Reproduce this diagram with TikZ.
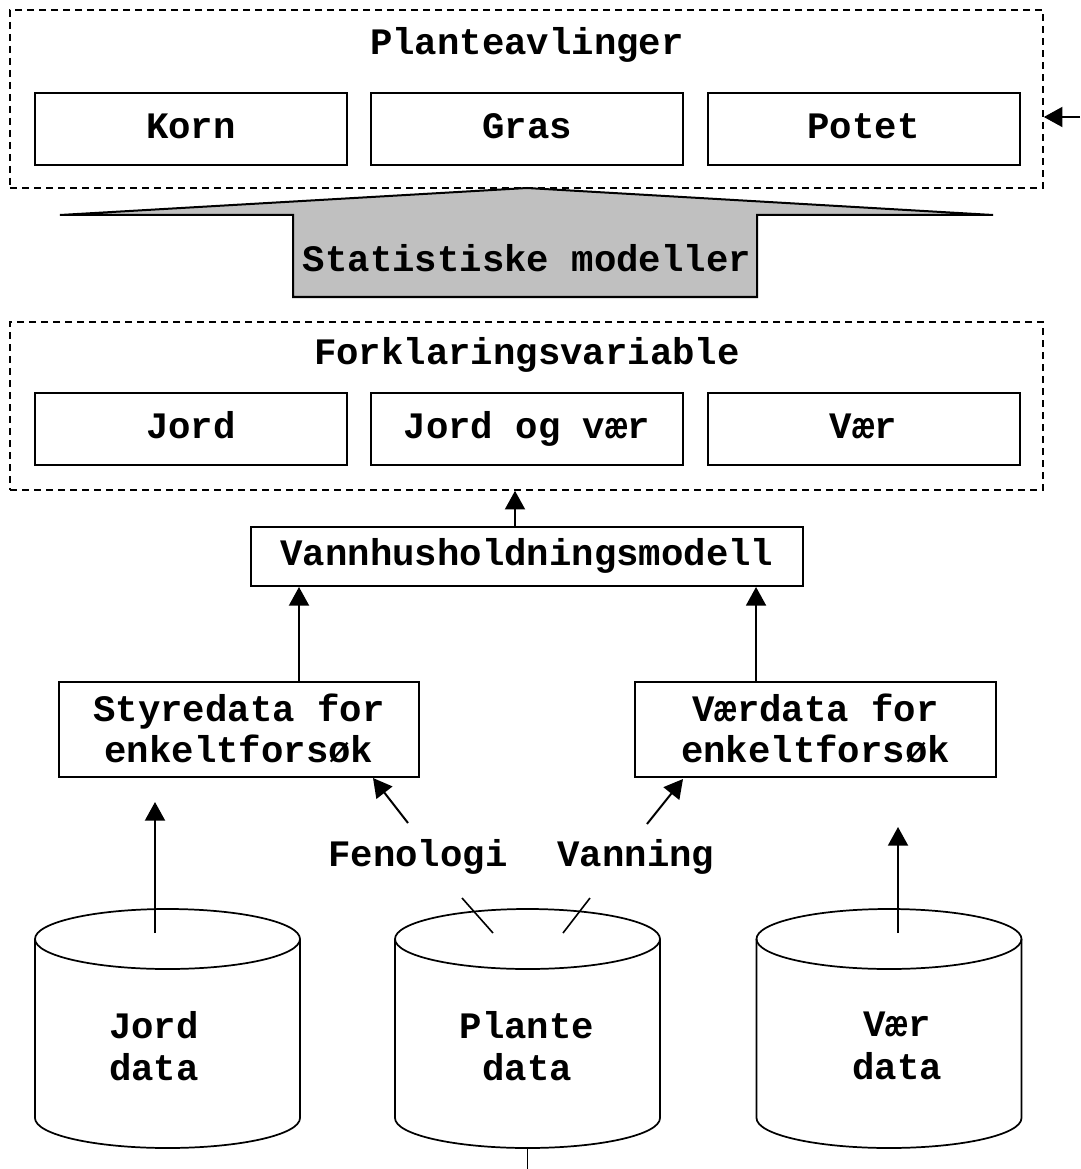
\documentclass[tikz,border=0pt]{standalone}
\usepackage{fontspec}
\newfontfamily\cour{Liberation Mono}
\usetikzlibrary{arrows.meta}
\begin{document}
\begin{tikzpicture}[x=0.75pt,y=-0.75pt,
  every node/.style={font=\cour\bfseries\fontsize{28}{32}\selectfont, inner sep=0pt, align=center},
  box/.style={draw, line width=1.5pt, minimum height=54pt},
  fixt/.style={text height=19pt, text depth=5pt},
  cont/.style={draw, dashed, dash pattern=on 5.5pt off 3.5pt, line width=1.2pt},
  arr/.style={line width=1.5pt, -{Triangle[length=14pt,width=15pt]}},
  ln/.style={line width=1.2pt}]
\useasboundingbox (0,0) rectangle (1080,1169);
% top container
\node[cont, minimum width=774.75pt, minimum height=133.5pt] (plante) at (526.5,99) {};
\node (plantet) at (527,45) {Planteavlinger};
\node[box, fixt, minimum width=234pt] (korn) at (191,129) {Korn};
\node[box, fixt, minimum width=234pt] (gras) at (527,129) {Gras};
\node[box, fixt, minimum width=234pt] (potet) at (863.5,129) {Potet};
\coordinate (ext) at (1080,117);
\draw[arr] (ext) -- (ext -| plante.east);
% gray arrow
\draw[line width=1.5pt, fill={rgb,255:red,192;green,192;blue,192}, line join=miter]
  (527,188) -- (993,215) -- (757,215) -- (757,297) -- (293,297) -- (293,215) -- (60,215) -- cycle;
\node (stat) at (527,258) {Statistiske modeller};
% second container
\node[cont, minimum width=774.75pt, minimum height=126pt] (forkl) at (526.5,406) {};
\node (forklt) at (527,355) {Forklaringsvariable};
\node[box, fixt, minimum width=234pt] (jordv) at (191,429) {Jord};
\node[box, fixt, minimum width=234pt] (jordog) at (527,429) {Jord og vær};
\node[box, fixt, minimum width=234pt] (vaerv) at (863.5,429) {Vær};
% water model
\node[box, fixt, minimum width=414pt, minimum height=44.25pt] (vann) at (527,556.5) {Vannhusholdningsmodell};
\draw[arr] ([xshift=-9pt]vann.north) -- ([xshift=-9pt]vann.north |- forkl.south);
% data boxes
\node[box, minimum width=270pt, minimum height=71.25pt] (styre) at (239,729.5) {\raisebox{-3pt}[\height][\depth]{\begin{tabular}{@{}c@{}}Styredata for\\[-1.25pt]enkeltforsøk\end{tabular}}};
\node[box, minimum width=270.75pt, minimum height=71.25pt] (vaerd) at (815.5,729.5) {\raisebox{-3pt}[\height][\depth]{\begin{tabular}{@{}c@{}}Værdata for\\[-1.25pt]enkeltforsøk\end{tabular}}};
\draw[arr] ([xshift=45pt]styre.north) -- ([xshift=45pt]styre.north |- vann.south);
\draw[arr] ([xshift=-44.6pt]vaerd.north) -- ([xshift=-44.6pt]vaerd.north |- vann.south);
% labels
\node (fen) at (418,857) {Fenologi};
\node (vanning) at (636,857) {Vanning};
\coordinate (fenA) at (408,823);
\coordinate (fenB) at (373,778);
\coordinate (vanA) at (647,824);
\coordinate (vanB) at (683,779);
\draw[arr] (fenA) -- (fenB);
\draw[arr] (vanA) -- (vanB);
\coordinate (fl1) at (462,898); \coordinate (fl2) at (493,933);
\coordinate (vl1) at (590,898); \coordinate (vl2) at (563,933);
% cylinders
\foreach \cx in {167.5, 527.5, 889} {
  \draw[line width=1.3pt, fill=white] (\cx-132.5,939) -- (\cx-132.5,1118) arc (180:360:99.375pt and 22.5pt) -- (\cx+132.5,939);
  \draw[line width=1.3pt] (\cx,939) ellipse [x radius=99.375pt, y radius=22.5pt];
}
\draw[ln] (fl1) -- (fl2);
\draw[ln] (vl1) -- (vl2);
\node (jordd) at (154,1046) {Jord\\data};
\node (planted) at (527,1046) {Plante\\data};
\node (vaerd2) at (897,1046) {Vær\\data};
\coordinate (jtop) at (155,933);
\coordinate (jtip) at (155,802);
\draw[arr] (jtop) -- (jtip);
\coordinate (vtop) at (898,933);
\coordinate (vtip) at (898,827);
\draw[arr] (vtop) -- (vtip);
\coordinate (pbot) at (527.5,1148);
\coordinate (pend) at (527.5,1169);
\draw[ln] (pbot) -- (pend);
\end{tikzpicture}
\end{document}
